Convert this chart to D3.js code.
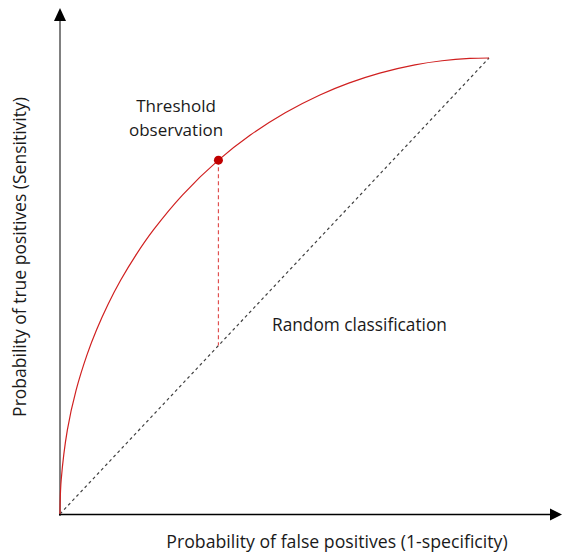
<!DOCTYPE html>
<html><head><meta charset="utf-8">
<script src="https://cdn.jsdelivr.net/npm/d3@7"></script>
<style>body{margin:0;background:#fff}svg{display:block}text{font-family:"Open Sans",sans-serif;fill:#1a1a1a}</style>
</head><body>
<svg id="c" width="562" height="555"></svg>
<script>
// ROC curve points (false positive rate, true positive rate)
const fpr = [0, 0.0002, 0.0028, 0.0171, 0.0377, 0.0633, 0.0853, 0.1121, 0.1416, 0.1784, 0.2178, 0.2859, 0.3693, 0.4437, 0.525, 0.6058, 0.6729, 0.7452, 0.8274, 0.8906, 0.9553, 1];
const tpr = [0, 0.02, 0.075, 0.184, 0.272, 0.35, 0.404, 0.46, 0.513, 0.57, 0.623, 0.70, 0.776, 0.831, 0.88, 0.919, 0.945, 0.967, 0.985, 0.994, 0.999, 1];
const threshold = {fpr: 0.3693, tpr: 0.776};
const diagonal = [[0, 0], [1, 1]];
const labels = {
  x: "Probability of false positives (1-specificity)",
  y: "Probability of true positives (Sensitivity)",
  point: ["Threshold", "observation"],
  random: "Random classification"
};

const svg = d3.select("#c");
const x = d3.scaleLinear().domain([0, 1]).range([60, 489]);
const y = d3.scaleLinear().domain([0, 1]).range([514, 58]);

// axes
svg.append("line").attr("x1", 60).attr("x2", 60).attr("y1", 516).attr("y2", 18)
  .attr("stroke", "#808080").attr("stroke-width", 2);
svg.append("path").attr("d", "M60,8 L54,21 L66,21 Z").attr("fill", "#000");
svg.append("line").attr("x1", 59).attr("x2", 552).attr("y1", 514.5).attr("y2", 514.5)
  .attr("stroke", "#000").attr("stroke-width", 1.5);
svg.append("path").attr("d", "M562,514.5 L550,508.5 L550,520.5 Z").attr("fill", "#000");

// diagonal
svg.append("path").datum(diagonal)
  .attr("d", d3.line().x(d => x(d[0])).y(d => y(d[1])))
  .attr("fill", "none").attr("stroke", "#404040").attr("stroke-width", 1.2)
  .attr("stroke-dasharray", "3,3");

// ROC curve
const pts = fpr.map((f, i) => [f, tpr[i]]);
svg.append("path").datum(pts)
  .attr("d", d3.line().x(d => x(d[0])).y(d => y(d[1])).curve(d3.curveCatmullRom.alpha(0.5)))
  .attr("fill", "none").attr("stroke", "#d02020").attr("stroke-width", 1.2);

// vertical dashed from threshold to diagonal
svg.append("line")
  .attr("x1", x(threshold.fpr)).attr("x2", x(threshold.fpr))
  .attr("y1", y(threshold.tpr)).attr("y2", y(threshold.fpr))
  .attr("stroke", "#e05050").attr("stroke-width", 1.2).attr("stroke-dasharray", "4,3");

svg.append("circle").attr("cx", x(threshold.fpr)).attr("cy", y(threshold.tpr)).attr("r", 4.5)
  .attr("fill", "#c00000");

// texts
const fs = 17.5;
svg.append("text").attr("x", 176).attr("y", 112).attr("text-anchor", "middle")
  .attr("font-size", 17).text(labels.point[0]);
svg.append("text").attr("x", 176).attr("y", 136).attr("text-anchor", "middle")
  .attr("font-size", 17).text(labels.point[1]);
svg.append("text").attr("x", 272).attr("y", 331).attr("font-size", 17.3).text(labels.random);
svg.append("text").attr("x", 337).attr("y", 548).attr("text-anchor", "middle")
  .attr("font-size", 17.7).text(labels.x);
svg.append("text").attr("transform", "translate(26,257) rotate(-90)").attr("text-anchor", "middle")
  .attr("font-size", 17.5).text(labels.y);
</script>
</body></html>
